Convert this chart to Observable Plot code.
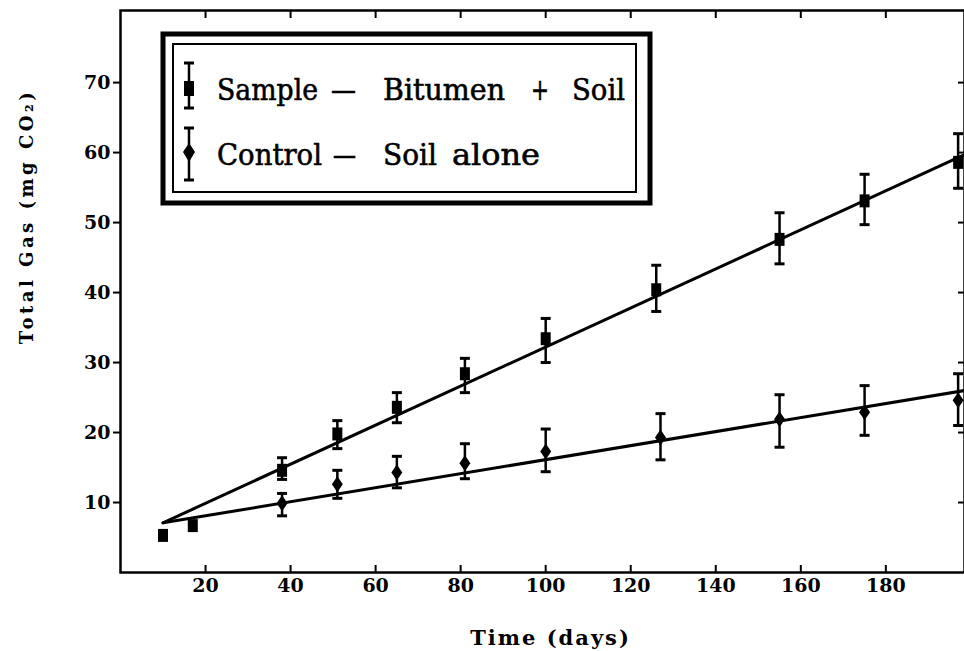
<!DOCTYPE html>
<html><head><meta charset="utf-8">
<script src="https://cdn.jsdelivr.net/npm/d3@7"></script>
<script src="https://cdn.jsdelivr.net/npm/@observablehq/plot@0.6"></script>
<style>
html,body{margin:0;padding:0;background:#fff;}
#chart svg{display:block;}
</style></head><body><div id="chart"></div>
<script>
// ---- data ----
const sampleDays = [10, 17, 38, 51, 65, 81, 100, 126, 155, 175, 197];
const sampleGas  = [5.3, 6.7, 14.6, 19.8, 23.6, 28.4, 33.4, 40.4, 47.6, 53.1, 58.6];
const sampleLow  = [null, null, 13.3, 17.7, 21.4, 25.7, 30.0, 37.3, 44.1, 49.7, 54.9];
const sampleHigh = [null, null, 16.4, 21.7, 25.7, 30.6, 36.3, 43.9, 51.4, 56.9, 62.7];

const controlDays = [38, 51, 65, 81, 100, 127, 155, 175, 197];
const controlGas  = [9.9, 12.6, 14.3, 15.6, 17.3, 19.3, 21.9, 22.9, 24.6];
const controlLow  = [8.1, 10.6, 12.1, 13.4, 14.4, 16.1, 17.9, 19.6, 21.0];
const controlHigh = [11.3, 14.6, 16.6, 18.4, 20.5, 22.7, 25.4, 26.7, 28.4];

const fitDays    = [10, 198.5];
const sampleFit  = [7.1, 59.7];
const controlFit = [7.1, 26.0];

const xTicks = [20, 40, 60, 80, 100, 120, 140, 160, 180];
const yTicks = [10, 20, 30, 40, 50, 60, 70];
const xTitle = "Time (days)";
const yTitle = "Total Gas (mg CO\u2082)";
const legendSample  = ["Sample", "\u2013", "Bitumen", "+", "Soil"];
const legendControl = ["Control", "\u2013", "Soil", "alone"];

// ---- tables ----
const sampleRows = sampleDays.map((d, i) => ({day: d, gas: sampleGas[i], lo: sampleLow[i], hi: sampleHigh[i]}));
const controlRows = controlDays.map((d, i) => ({day: d, gas: controlGas[i], lo: controlLow[i], hi: controlHigh[i]}));
const sampleErr = sampleRows.filter(r => r.lo != null);
const allErr = sampleErr.concat(controlRows);
const sampleLine = fitDays.map((d, i) => ({day: d, gas: sampleFit[i]}));
const controlLine = fitDays.map((d, i) => ({day: d, gas: controlFit[i]}));

// ---- custom symbols ----
const capSym = {draw(ctx) { ctx.moveTo(-5, 0); ctx.lineTo(5, 0); }};
const squareSym = {draw(ctx) { ctx.rect(-5, -6.5, 10, 13); }};
const diamondSym = {draw(ctx) { ctx.moveTo(0, -8); ctx.lineTo(5.5, 0); ctx.lineTo(0, 8); ctx.lineTo(-5.5, 0); ctx.closePath(); }};

const plot = Plot.plot({
  width: 964,
  height: 651,
  marginLeft: 120,
  marginRight: 0,
  marginTop: 10,
  marginBottom: 79,
  style: {fontFamily: "'DejaVu Serif', serif", fontSize: "19px", fontWeight: "bold", background: "white", color: "black"},
  x: {domain: [0, 198.5]},
  y: {domain: [0, 80.3]},
  marks: [
    Plot.frame({stroke: "black", strokeWidth: 2.5}),
    Plot.axisY({ticks: yTicks, tickSize: 7, tickPadding: 3, strokeWidth: 2, label: null}),
    Plot.axisY({anchor: "right", ticks: yTicks, tickSize: -7, tickFormat: () => "", strokeWidth: 2, label: null}),
    Plot.axisX({ticks: xTicks, tickSize: -7, tickPadding: 13, strokeWidth: 2, label: null}),
    Plot.axisX({anchor: "top", ticks: xTicks, tickSize: -7, tickFormat: () => "", strokeWidth: 2, label: null}),
    Plot.line(sampleLine, {x: "day", y: "gas", stroke: "black", strokeWidth: 3}),
    Plot.line(controlLine, {x: "day", y: "gas", stroke: "black", strokeWidth: 3}),
    Plot.ruleX(allErr, {x: "day", y1: "lo", y2: "hi", stroke: "black", strokeWidth: 2.5}),
    Plot.dot(allErr, {x: "day", y: "lo", symbol: capSym, stroke: "black", strokeWidth: 3, fill: "none"}),
    Plot.dot(allErr, {x: "day", y: "hi", symbol: capSym, stroke: "black", strokeWidth: 3, fill: "none"}),
    Plot.dot(sampleRows, {x: "day", y: "gas", symbol: squareSym, fill: "black", stroke: "none"}),
    Plot.dot(controlRows, {x: "day", y: "gas", symbol: diamondSym, fill: "black", stroke: "none"}),
    Plot.text([xTitle], {frameAnchor: "bottom", textAnchor: "middle", lineAnchor: "middle", dx: 8, dy: 66, fontSize: 21, fontWeight: "bold"}),
    Plot.text([yTitle], {frameAnchor: "left", textAnchor: "middle", lineAnchor: "middle", rotate: -90, dx: -93, dy: -75, fontSize: 18, fontWeight: "bold"})
  ]
});

document.getElementById("chart").appendChild(plot);

// spacing of axis titles
const svg = d3.select(plot);
svg.selectAll("text").filter(function() { return this.textContent === xTitle; })
  .attr("letter-spacing", 2);
svg.selectAll("text").filter(function() { return this.textContent === yTitle; })
  .attr("letter-spacing", 3.5);

// ---- legend (double-bordered box inside the frame) ----
const lg = svg.append("g").attr("class", "legend").attr("text-anchor", "start");
lg.append("rect").attr("x", 163).attr("y", 34).attr("width", 487).attr("height", 169)
  .attr("fill", "white").attr("stroke", "black").attr("stroke-width", 5);
lg.append("rect").attr("x", 173).attr("y", 44).attr("width", 463).attr("height", 148)
  .attr("fill", "none").attr("stroke", "black").attr("stroke-width", 2);

function errGlyph(cx, y1, y2) {
  lg.append("line").attr("x1", cx).attr("x2", cx).attr("y1", y1).attr("y2", y2)
    .attr("stroke", "black").attr("stroke-width", 2.5);
  [y1, y2].forEach(y => lg.append("line").attr("x1", cx - 5).attr("x2", cx + 5).attr("y1", y).attr("y2", y)
    .attr("stroke", "black").attr("stroke-width", 3));
}
errGlyph(189, 63, 108);
lg.append("rect").attr("x", 184).attr("y", 81).attr("width", 10).attr("height", 15).attr("fill", "black");
errGlyph(189, 128, 180);
lg.append("path").attr("d", "M189,143 L195,152 L189,162 L183,152 Z").attr("fill", "black");

const row1 = [[217, 101], [330, 27], [383, 122], [531, 18], [572, 53]];
const row2 = [[217, 105], [332, 25], [383, 54], [452, 88]];
function legendRow(tokens, pos, baseline) {
  tokens.forEach((t, i) => {
    lg.append("text").attr("x", pos[i][0]).attr("y", baseline)
      .attr("text-anchor", "start")
      .attr("textLength", pos[i][1]).attr("lengthAdjust", "spacingAndGlyphs")
      .attr("font-family", "'DejaVu Serif', serif").attr("font-size", 30).attr("font-weight", "normal")
      .attr("stroke", "black").attr("stroke-width", 0.6)
      .attr("fill", "black").text(t);
  });
}
legendRow(legendSample, row1, 100);
legendRow(legendControl, row2, 165);
</script>
</body></html>
